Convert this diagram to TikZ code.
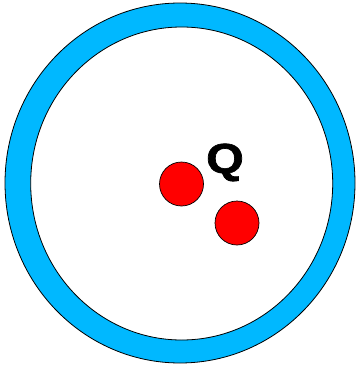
\documentclass[tikz,border=0pt]{standalone}
\usepackage{fontspec}
\setmainfont{Liberation Sans}
\newfontfamily\qfont[FakeBold=1.5]{Liberation Sans Bold}
\definecolor{ringblue}{RGB}{0,184,255}
\definecolor{ballred}{RGB}{255,0,0}
\begin{document}
\begin{tikzpicture}[x=1pt,y=-1pt,
  ring/.style={fill=ringblue,draw=black,line width=0.8pt,even odd rule},
  ball/.style={circle,fill=ballred,draw=black,line width=0.7pt,minimum size=44pt,inner sep=0pt},
  label/.style={font=\qfont\fontsize{42}{42}\selectfont,inner sep=0pt}]
\useasboundingbox (0,0) rectangle (356,367);
\path[ring] (180,183) ellipse [x radius=175,y radius=180]
            (181.7,183.5) ellipse [x radius=151,y radius=156.5];
\node[ball] (b1) at (181.5,184) {};
\node[ball] (b2) at (237,223) {};
\node[label,anchor=base west] (q) at (206,173) {\scalebox{1.15}[1]{Q}};
\end{tikzpicture}
\end{document}
